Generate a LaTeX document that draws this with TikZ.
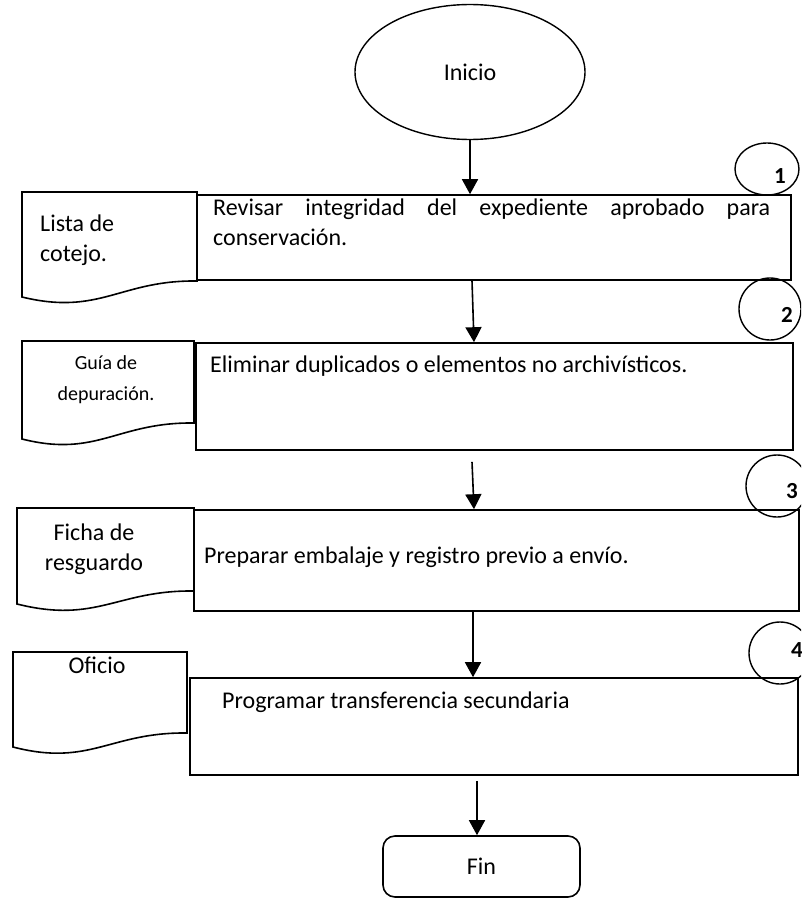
\documentclass[tikz,border=0pt]{standalone}
\usepackage{fontspec}
\setmainfont{Carlito}
\usetikzlibrary{shapes.geometric,arrows.meta,positioning,calc}
\tikzstyle{line} = [draw, line width=1.6pt]
\tikzstyle{proc} = [draw, line width=1.6pt, rectangle, inner sep=0pt]
\tikzstyle{txt} = [inner sep=0pt, font=\fontsize{24}{30}\selectfont]
\tikzstyle{small} = [inner sep=0pt, font=\fontsize{20}{31}\selectfont]
\tikzstyle{num} = [draw, ellipse, line width=1.4pt, inner sep=0pt, minimum size=62pt]
\tikzstyle{numtxt} = [inner sep=0pt, anchor=base, font=\fontsize{23}{28}\selectfont\bfseries]
\tikzset{>={Triangle[width=16pt,length=15pt]}}

\begin{document}
\begin{tikzpicture}[x=1pt,y=-1pt]
    \useasboundingbox (0,0) rectangle (801,899);
    \clip (0,0) rectangle (801,899);
    % start
    \node [draw, ellipse, line width=1.4pt, minimum width=230pt, minimum height=135pt, txt] (inicio) at (470,72) {Inicio};
    % steps
    \node [proc, minimum width=594pt, minimum height=85pt] (box1) at (494,237.5) {};
    \node [proc, minimum width=597pt, minimum height=107pt] (box2) at (494.5,396.5) {};
    \node [proc, minimum width=605pt, minimum height=101pt] (box3) at (496.5,560.5) {};
    \node [proc, minimum width=608pt, minimum height=97pt] (box4) at (494,726.5) {};
    \node [proc, rounded corners=12pt, minimum width=197pt, minimum height=61pt, txt] (fin) at (481.5,866.5) {Fin};
    \node [txt, anchor=north west, text width=557pt, align=left] (t1) at (213,199) {Revisar\hfill integridad\hfill del\hfill expediente\hfill aprobado\hfill para\\conservación.};
    \node [txt, anchor=base west] (t2) at (210,372) {Eliminar duplicados o elementos no archivísticos.};
    \node [txt, anchor=base west] (t3) at (204,563) {Preparar embalaje y registro previo a envío.};
    \node [txt, anchor=base west] (t4) at (222,708) {Programar transferencia secundaria};
    % documents
    \draw [line] (22,192) -- (197,192) -- (197,281) .. controls (120,280) and (100,316) .. (22,297) -- cycle;
    \draw [line] (22,341) -- (194,341) -- (194,423) .. controls (117,422) and (97,458) .. (22,439) -- cycle;
    \draw [line] (17,508) -- (194,508) -- (194,591) .. controls (117,590) and (97,624) .. (17,604) -- cycle;
    \draw [line] (13,652) -- (187,652) -- (187,733) .. controls (110,732) and (90,767) .. (13,747) -- cycle;
    \node [txt, anchor=north west, align=left] (d1) at (40,215) {Lista de\\cotejo.};
    \node [small, anchor=north, align=center] (d2) at (106,355) {Guía de\\depuración.};
    \node [txt, anchor=north, align=center] (d3) at (94,524) {Ficha de\\resguardo};
    \node [txt, anchor=base] (d4) at (97,673) {Oficio};
    % step numbers
    \node [num, minimum width=64pt, minimum height=52pt] (c1) at (767,169) {};
    \node [num] (c2) at (770,309) {};
    \node [num] (c3) at (777,486) {};
    \node [num] (c4) at (780,653) {};
    \node [numtxt] (n1) at (780,183) {1};
    \node [numtxt] (n2) at (787,322) {2};
    \node [numtxt] (n3) at (792,498) {3};
    \node [numtxt] (n4) at (797,657) {4};
    % arrows
    \draw [line,->] (inicio.south) -- (inicio.south |- box1.north);
    \draw [line,->] ([xshift=-22pt]box1.south) -- ([xshift=-20.5pt]box2.north);
    \draw [line,->] ([xshift=-22.5pt,yshift=-11pt]box2.south) -- ([xshift=-22.5pt]box3.north);
    \draw [line,->] ([xshift=-23.5pt]box3.south) -- ([xshift=-21pt]box4.north);
    \draw [line,->] ([xshift=-17pt,yshift=-5pt]box4.south) -- ([xshift=-4.5pt]fin.north);
  \end{tikzpicture}
\end{document}
